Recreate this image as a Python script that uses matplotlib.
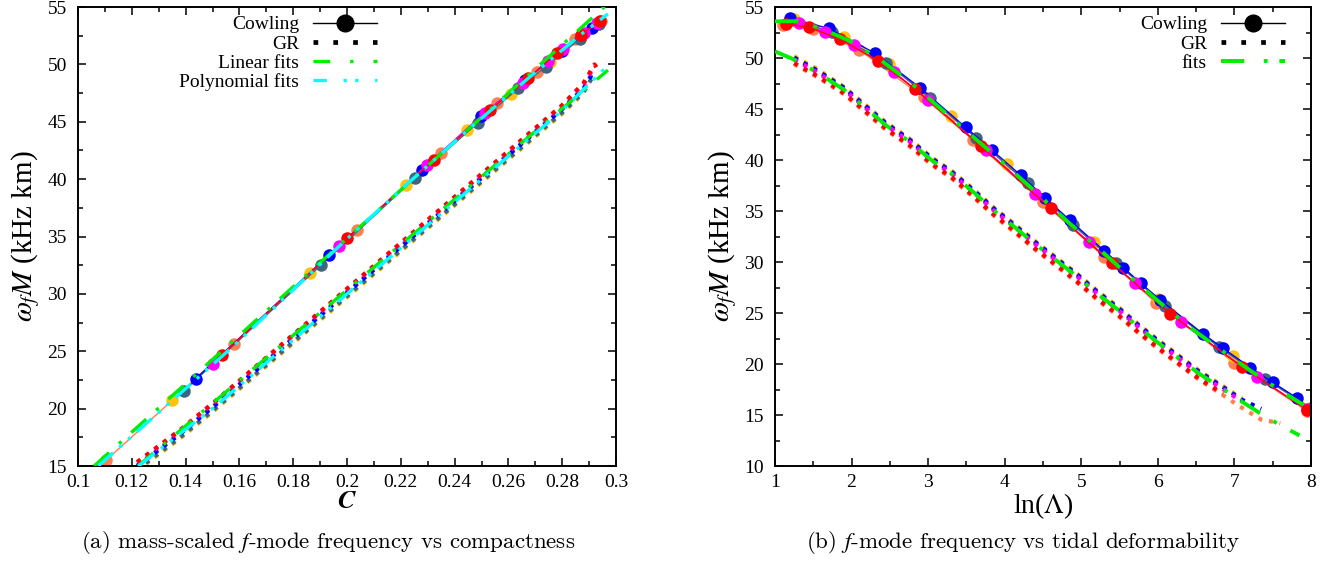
import matplotlib
matplotlib.use("Agg")
import matplotlib.pyplot as plt
from matplotlib.lines import Line2D
from matplotlib.ticker import MultipleLocator

plt.rcParams['font.family'] = ['Liberation Serif', 'DejaVu Serif']
plt.rcParams['mathtext.fontset'] = 'stix'

eos_colors = ['#ff7f50', '#ffc20e', '#3f6580', '#0000ff', '#ff00ff', '#ff0000']

# ---- panel (a): omega_f M vs compactness C ----
# Cowling (big circles), one list per EOS: coral, gold, slate, blue, magenta, red
cow_c_coral = [0.1104, 0.158, 0.2036, 0.235, 0.2557, 0.2706, 0.2846, 0.2946]
cow_w_coral = [15.5, 25.6, 35.6, 42.3, 46.6, 49.3, 52.2, 53.75]
cow_c_gold = [0.135, 0.1864, 0.2218, 0.2447, 0.2609, 0.2755, 0.2870]
cow_w_gold = [20.76, 31.8, 39.5, 44.3, 47.4, 50.2, 52.4]
cow_c_slate = [0.1394, 0.1903, 0.2253, 0.2486, 0.2637, 0.2738, 0.2865, 0.2935]
cow_w_slate = [21.57, 32.5, 40.1, 44.9, 47.9, 49.8, 52.2, 53.5]
cow_c_blue = [0.1437, 0.1933, 0.2279, 0.2499, 0.2660, 0.2800, 0.2910]
cow_w_blue = [22.6, 33.4, 40.8, 45.5, 48.6, 51.2, 53.2]
cow_c_magenta = [0.150, 0.1972, 0.2298, 0.2512, 0.2654, 0.2749, 0.2803, 0.2880, 0.2930]
cow_w_magenta = [23.9, 34.2, 41.25, 45.8, 48.4, 50.3, 51.3, 52.7, 53.6]
cow_c_red = [0.1536, 0.2000, 0.2324, 0.2531, 0.2674, 0.2780, 0.2870, 0.2940]
cow_w_red = [24.7, 34.85, 41.7, 46.0, 48.8, 51.0, 52.6, 53.8]

# GR (small squares), shared C grid, EOS lists stop at their own maximum mass
gr_c = [0.122, 0.138, 0.151, 0.164, 0.177, 0.190, 0.203, 0.216, 0.229,
        0.241, 0.254, 0.267, 0.280, 0.288, 0.292, 0.2935]
gr_w_coral = [15.1, 17.9, 20.4, 23.0, 25.6, 28.2, 30.8, 33.4, 36.0, 38.4, 41.0, 43.6, 46.2, 48.0, 49.6]
gr_w_gold = [14.6, 17.4, 19.9, 22.5, 25.1, 27.7, 30.3, 32.9, 35.5, 37.9, 40.5, 43.1, 45.7, 47.5]
gr_w_slate = [14.7, 17.5, 20.0, 22.6, 25.2, 27.8, 30.4, 33.0, 35.6, 38.0, 40.6, 43.2, 45.8, 47.6, 49.2]
gr_w_blue = [15.0, 17.8, 20.3, 22.9, 25.5, 28.1, 30.7, 33.3, 35.9, 38.3, 40.9, 43.5, 46.1, 47.9, 49.5]
gr_w_magenta = [15.3, 18.1, 20.6, 23.2, 25.8, 28.4, 31.0, 33.6, 36.2, 38.6, 41.2, 43.8, 46.4, 48.3, 49.8]
gr_w_red = [15.35, 18.15, 20.65, 23.25, 25.85, 28.45, 31.05, 33.65, 36.25, 38.65, 41.25, 43.85, 46.45, 48.4, 50.0, 49.5]

lin_cow_c = [0.106, 0.297]
lin_cow_w = [15.0, 55.3]
lin_gr_c = [0.1223, 0.297]
lin_gr_w = [15.0, 49.5]
poly_cow_c = [0.1075, 0.135, 0.158, 0.186, 0.200, 0.222, 0.245, 0.2674, 0.288, 0.297]
poly_cow_w = [15.0, 20.7, 25.5, 31.7, 34.8, 39.5, 44.3, 48.8, 52.8, 54.4]
poly_gr_c = [0.1225, 0.151, 0.177, 0.203, 0.229, 0.254, 0.280, 0.297]
poly_gr_w = [15.0, 20.2, 25.4, 30.6, 35.8, 40.8, 46.0, 49.9]

# ---- panel (b): omega_f M vs ln(Lambda) ----
cowb_x_coral = [1.1, 1.5, 2.1, 2.94, 3.58, 4.5, 5.3, 5.98, 7.0, 7.95]
cowb_w_coral = [53.25, 52.8, 50.8, 46.15, 42.0, 35.85, 30.5, 26.0, 20.1, 15.4]
cowb_x_gold = [1.25, 1.9, 2.49, 3.30, 4.03, 5.16, 6.0, 6.98, 8.0]
cowb_w_gold = [53.8, 52.1, 49.4, 44.35, 39.6, 32.0, 26.4, 20.75, 15.7]
cowb_x_slate = [1.2, 1.75, 2.45, 3.03, 3.62, 4.3, 4.89, 5.45, 6.1, 6.80, 7.4, 8.0]
cowb_w_slate = [53.75, 52.55, 49.55, 46.05, 42.2, 37.7, 33.65, 29.95, 25.7, 21.65, 18.55, 15.65]
cowb_x_blue = [1.2, 1.7, 2.3, 2.9, 3.49, 3.83, 4.21, 4.53, 4.85, 5.30, 5.55, 5.78,
               6.03, 6.59, 6.85, 7.21, 7.50, 7.82]
cowb_w_blue = [53.9, 52.9, 50.5, 47.05, 43.2, 41.0, 38.5, 36.3, 34.1, 31.1, 29.45, 27.9,
               26.3, 22.95, 21.55, 19.65, 18.2, 16.65]
cowb_x_magenta = [1.31, 1.65, 2.03, 2.56, 3.0, 3.76, 4.4, 5.1, 5.7, 6.30, 7.3, 7.95]
cowb_w_magenta = [53.4, 52.55, 51.25, 48.6, 45.9, 40.95, 36.7, 31.95, 27.95, 24.1, 18.7, 15.55]
cowb_x_red = [1.15, 1.45, 1.85, 2.35, 2.83, 3.69, 4.6, 5.4, 6.16, 7.1, 7.95]
cowb_w_red = [53.35, 53.0, 51.85, 49.7, 46.95, 41.35, 35.25, 29.9, 24.95, 19.7, 15.5]

grb_x = [1.25, 1.55, 1.9, 2.2, 2.45, 2.75, 3.05, 3.3, 3.6, 3.85, 4.1, 4.4, 4.7,
         4.95, 5.2, 5.5, 5.75, 6.0, 6.3, 6.55, 6.85, 7.1, 7.35, 7.6]
grb_w_coral = [49.4, 48.15, 46.45, 44.55, 42.95, 41.4, 39.5, 38.25, 36.3, 34.6, 33.1, 31.2, 29.45,
               27.95, 26.35, 24.6, 23.0, 21.5, 19.8, 18.4, 16.95, 15.7, 14.55, 14.2]
grb_w_gold = [50.2, 48.95, 47.2, 45.3, 43.7, 42.15, 40.25, 39.0, 37.1, 35.4, 33.9, 32.05, 30.3,
              28.85, 27.25, 25.5, 23.9, 22.4, 20.7, 19.3, 17.85, 16.6]
grb_w_slate = [49.95, 48.7, 47.0, 45.1, 43.5, 41.95, 40.05, 38.8, 36.9, 35.2, 33.7, 31.85, 30.1,
               28.65, 27.05, 25.3, 23.7, 22.2, 20.5, 19.1, 17.65]
grb_w_blue = [50.05, 48.8, 47.1, 45.2, 43.6, 42.05, 40.15, 38.9, 37.0, 35.3, 33.8, 31.95, 30.2,
              28.75, 27.15, 25.4, 23.8, 22.3, 20.6, 19.2, 17.75, 16.5, 15.6]
grb_w_magenta = [49.85, 48.6, 46.9, 45.0, 43.4, 41.85, 39.95, 38.7, 36.8, 35.1, 33.6, 31.75, 30.0,
                 28.55, 26.95, 25.2, 23.6, 22.1, 20.4, 19.0, 17.55, 16.3]
grb_w_red = [49.5, 48.25, 46.55, 44.65, 43.05, 41.5, 39.6, 38.35, 36.4, 34.7, 33.2, 31.3, 29.55,
             28.05, 26.45, 24.7, 23.1, 21.6, 19.9, 18.5, 17.1]

fitb_cow_x = [1.0, 1.3, 1.6, 2.0, 2.4, 2.8, 3.2, 3.6, 4.0, 4.4, 4.8, 5.2, 5.6, 6.0,
              6.4, 6.8, 7.2, 7.6, 7.9]
fitb_cow_w = [53.6, 53.6, 52.9, 51.6, 49.7, 47.4, 44.8, 42.2, 39.6, 36.9, 34.1, 31.5, 28.8, 26.2,
              23.7, 21.5, 19.4, 17.4, 16.0]
fitb_gr_x = [1.0, 1.25, 1.55, 1.9, 2.2, 2.45, 2.75, 3.05, 3.3, 3.6, 3.85, 4.1, 4.4, 4.7,
             4.95, 5.2, 5.5, 5.75, 6.0, 6.3, 6.55, 6.85, 7.1, 7.35, 7.6, 7.85]
fitb_gr_w = [50.65, 49.85, 48.6, 46.9, 45.0, 43.4, 41.85, 39.95, 38.7, 36.8, 35.1, 33.6, 31.75, 30.0,
             28.55, 26.95, 25.2, 23.6, 22.1, 20.4, 19.0, 17.55, 16.3, 15.1, 14.0, 13.0]

cow_a = [(cow_c_coral, cow_w_coral), (cow_c_gold, cow_w_gold), (cow_c_slate, cow_w_slate),
         (cow_c_blue, cow_w_blue), (cow_c_magenta, cow_w_magenta), (cow_c_red, cow_w_red)]
gr_a = [gr_w_coral, gr_w_gold, gr_w_slate, gr_w_blue, gr_w_magenta, gr_w_red]
cow_b = [(cowb_x_coral, cowb_w_coral), (cowb_x_gold, cowb_w_gold), (cowb_x_slate, cowb_w_slate),
         (cowb_x_blue, cowb_w_blue), (cowb_x_magenta, cowb_w_magenta), (cowb_x_red, cowb_w_red)]
gr_b = [grb_w_coral, grb_w_gold, grb_w_slate, grb_w_blue, grb_w_magenta, grb_w_red]

green = '#00ee00'
cyan = '#00ffff'
dot_style = (0, (1, 1.6))
green_dash = (0, (6, 4, 1, 4))
cyan_dash = (0, (6, 2.5, 1, 2.5, 1, 2.5))

fig = plt.figure(figsize=(13.38, 5.62), dpi=100)
ax1 = fig.add_axes([0.0583, 0.1708, 0.4021, 0.8167])
ax2 = fig.add_axes([0.5792, 0.1708, 0.4006, 0.8167])

# panel (a)
for (cx, cw), gw, col in zip(cow_a, gr_a, eos_colors):
    ax1.plot(cx, cw, '-', color=col, lw=1.0, marker='o', ms=9, mec='none', zorder=2)
    ax1.plot(gr_c[:len(gw)], gw, color=col, lw=3.0, linestyle=dot_style, zorder=2)
ax1.plot(lin_cow_c, lin_cow_w, color=green, lw=2.4, linestyle=green_dash, zorder=3)
ax1.plot(lin_gr_c, lin_gr_w, color=green, lw=2.4, linestyle=green_dash, zorder=3)
ax1.plot(poly_cow_c, poly_cow_w, color=cyan, lw=2.4, linestyle=cyan_dash, zorder=4)
ax1.plot(poly_gr_c, poly_gr_w, color=cyan, lw=2.4, linestyle=cyan_dash, zorder=4)

# panel (b)
for (cx, cw), gw, col in zip(cow_b, gr_b, eos_colors):
    ax2.plot(cx, cw, '-', color=col, lw=1.0, marker='o', ms=9, mec='none', zorder=2)
    ax2.plot(grb_x[:len(gw)], gw, color=col, lw=3.0, linestyle=dot_style, zorder=2)
ax2.plot(fitb_cow_x, fitb_cow_w, color=green, lw=2.8, linestyle=(0, (6, 4, 1, 4)), zorder=4)
ax2.plot(fitb_gr_x, fitb_gr_w, color=green, lw=2.8, linestyle=(0, (6, 4, 1, 4)), zorder=4)

ax1.set_xlim(0.1, 0.3)
ax1.set_ylim(15, 55)
ax1.xaxis.set_minor_locator(MultipleLocator(0.01))
ax1.yaxis.set_major_locator(MultipleLocator(5))
ax1.yaxis.set_minor_locator(MultipleLocator(2.5))
ax1.set_xticks([0.1, 0.12, 0.14, 0.16, 0.18, 0.2, 0.22, 0.24, 0.26, 0.28, 0.3])
ax1.set_xticklabels(['0.1', '0.12', '0.14', '0.16', '0.18', '0.2', '0.22', '0.24', '0.26', '0.28', '0.3'])

ax2.set_xlim(1, 8)
ax2.set_ylim(10, 55)
ax2.xaxis.set_major_locator(MultipleLocator(1))
ax2.xaxis.set_minor_locator(MultipleLocator(0.5))
ax2.yaxis.set_major_locator(MultipleLocator(5))
ax2.yaxis.set_minor_locator(MultipleLocator(2.5))

for ax in (ax1, ax2):
    ax.tick_params(which='both', direction='in', top=True, right=True, labelsize=14, width=1.1)
    ax.tick_params(which='major', length=6)
    ax.tick_params(which='minor', length=3.5)
    ax.tick_params(axis='x', pad=6)
    ax.tick_params(axis='y', pad=8)
    for s in ax.spines.values():
        s.set_linewidth(1.4)
    ax.set_ylabel(r'$\omega_f M$ (kHz km)', fontsize=21, labelpad=4)

ax1.set_xlabel(r'$\boldsymbol{C}$', fontsize=19, labelpad=0)
ax2.set_xlabel(r'ln($\Lambda$)', fontsize=20, labelpad=0)

cow_h = Line2D([], [], color='black', lw=1.0, marker='o', ms=12)
gr_h = Line2D([], [], color='black', lw=3.4, linestyle=(0, (1, 3.2)))
lin_h = Line2D([], [], color=green, lw=2.4, linestyle=(0, (5, 6, 1, 6)))
poly_h = Line2D([], [], color=cyan, lw=2.4, linestyle=(0, (4, 5, 1, 2.5, 1, 5)))
fit_h = Line2D([], [], color=green, lw=2.8, linestyle=(0, (6, 5, 1, 3)))

leg_kw = dict(loc='upper right', frameon=False, markerfirst=False, numpoints=1,
              handlelength=3.3, handletextpad=0.7, labelspacing=0.08,
              borderpad=0, borderaxespad=0, fontsize=14)
ax1.legend([cow_h, gr_h, lin_h, poly_h], ['Cowling', 'GR', 'Linear fits', 'Polynomial fits'],
           bbox_to_anchor=(0.556, 0.981), **leg_kw)
ax2.legend([cow_h, gr_h, fit_h], ['Cowling', 'GR', 'fits'],
           bbox_to_anchor=(0.951, 0.981), **leg_kw)

cap_font = dict(fontsize=16.5, family='cmr10', ha='center', va='center')
fig.text(0.245, 1 - 542 / 562, r'(a) mass-scaled $f$-mode frequency vs compactness', **cap_font)
fig.text(0.7645, 1 - 542 / 562, r'(b) $f$-mode frequency vs tidal deformability', **cap_font)

fig.savefig('out.png', dpi=100)
